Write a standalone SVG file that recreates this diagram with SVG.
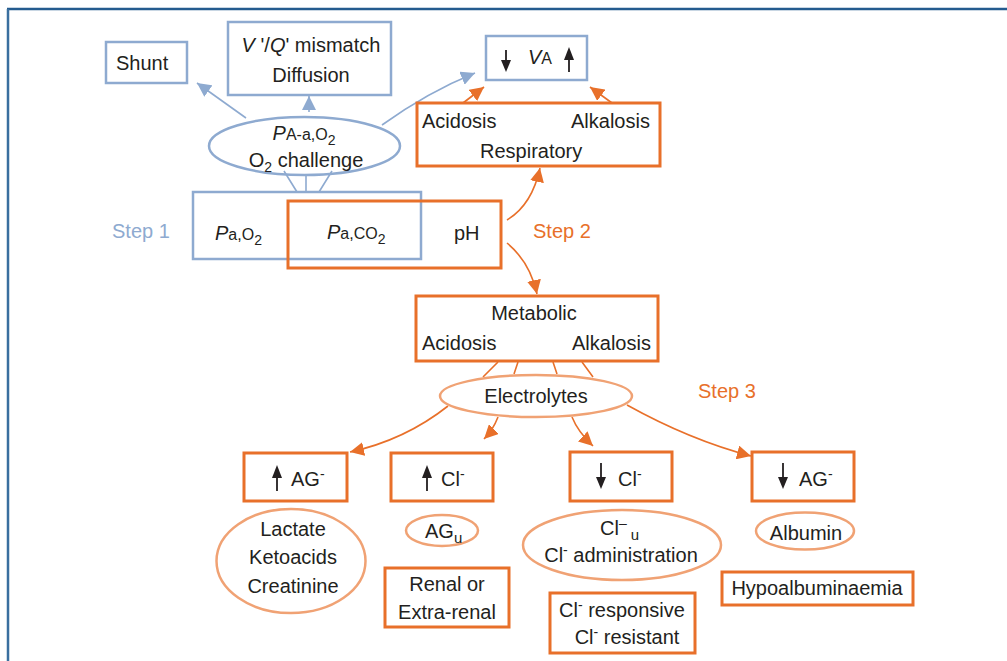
<svg xmlns="http://www.w3.org/2000/svg" width="1007" height="661" viewBox="0 0 1007 661">
<defs>
<style>
.t{font-family:"Liberation Sans",Arial,sans-serif;font-size:20px;fill:#231f20}
.m{text-anchor:middle}
.bb{fill:none;stroke:#8eaad0;stroke-width:2.5}
.ob{fill:none;stroke:#e8702a;stroke-width:3}
.oe{fill:none;stroke:#f0a274;stroke-width:2.5}
.bl{fill:none;stroke:#8eaad0;stroke-width:1.6}
.ol{fill:none;stroke:#e8702a;stroke-width:1.6}
.ba{marker-end:url(#mb)}
.oa{marker-end:url(#mo)}
.ar{stroke:#231f20;stroke-width:1.8}
.hd{fill:#231f20}
</style>
<marker id="mb" markerUnits="userSpaceOnUse" markerWidth="16" markerHeight="14" refX="14" refY="7" orient="auto"><path d="M0,0 L14,7 L0,14 z" fill="#8eaad0"/></marker>
<marker id="mo" markerUnits="userSpaceOnUse" markerWidth="16" markerHeight="14" refX="14" refY="7" orient="auto"><path d="M0,0 L14,7 L0,14 z" fill="#e8702a"/></marker>
</defs>
<rect width="1007" height="661" fill="#ffffff"/>
<g id="frame">
<line x1="7" y1="9" x2="1007" y2="9" stroke="#245b8f" stroke-width="2.5"/>
<line x1="8" y1="9" x2="8" y2="661" stroke="#3a6f9f" stroke-width="2.5"/>
</g>

<g id="connectors">
<path class="bl ba" d="M246,118 L197,83"/>
<path class="bl ba" d="M309,112 L309,96"/>
<path class="bl ba" d="M382,125 Q428,92 475,73"/>
<path class="bl" d="M284,171 L297,192 M306,175 L306,192 M332,171 L319,192"/>
<path class="ol oa" d="M463,103 L484,87"/>
<path class="ol oa" d="M612,103 L590,87"/>
<path class="ol oa" d="M507,220 Q532,205 540,168"/>
<path class="ol oa" d="M507,243 Q530,262 537,294"/>
<path class="ol" d="M498,362 L483,377 M518,362 L514,374 M553,362 L557,374 M582,362 L593,377"/>
<path class="ol oa" d="M448,406 Q405,440 350,452"/>
<path class="ol oa" d="M498,417 Q493,430 484,439"/>
<path class="ol oa" d="M572,417 Q578,432 593,446"/>
<path class="ol oa" d="M627,405 Q690,440 751,456"/>
</g>

<g id="shunt"><rect class="bb" x="106" y="42" width="81" height="41"/><text class="t" x="116" y="70">Shunt</text></g>
<g id="vq"><rect class="bb" x="228" y="22" width="163" height="73"/>
<text class="t m" x="311" y="52"><tspan font-style="italic">V</tspan> '/<tspan font-style="italic">Q</tspan>' mismatch</text>
<text class="t m" x="311" y="82">Diffusion</text></g>
<g id="paa"><ellipse cx="304.5" cy="146" rx="95.5" ry="29" fill="none" stroke="#8eaad0" stroke-width="2.5"/>
<text class="t m" x="304" y="140"><tspan font-style="italic">P</tspan><tspan font-size="16">A-a,O</tspan><tspan font-size="14" dy="5">2</tspan></text>
<text class="t m" x="306" y="167">O<tspan font-size="14" dy="5">2</tspan><tspan dy="-5"> challenge</tspan></text></g>
<g id="va"><rect class="bb" x="486" y="36" width="101" height="44"/>
<line class="ar" x1="506" y1="50" x2="506" y2="62"/><polygon class="hd" points="501,60 511,60 506,72"/>
<text class="t" x="528" y="64"><tspan font-style="italic">V</tspan><tspan font-size="16">A</tspan></text>
<line class="ar" x1="569" y1="72" x2="569" y2="58"/><polygon class="hd" points="564,60 574,60 569,47"/></g>
<g id="resp"><rect class="ob" x="417" y="103" width="243" height="63"/>
<text class="t" x="422" y="128">Acidosis</text><text class="t" x="571" y="128">Alkalosis</text>
<text class="t" x="480" y="158">Respiratory</text></g>
<g id="step1"><text class="t" x="112" y="238" style="fill:#8eaad0">Step 1</text></g>
<g id="pa"><rect class="bb" x="193" y="192" width="228" height="67"/>
<text class="t" x="215" y="240"><tspan font-style="italic">P</tspan><tspan font-size="16">a,O</tspan><tspan font-size="14" dy="5">2</tspan></text></g>
<g id="pco2"><rect class="ob" x="288" y="201" width="213" height="67"/>
<text class="t" x="327" y="239"><tspan font-style="italic">P</tspan><tspan font-size="16">a,CO</tspan><tspan font-size="14" dy="5">2</tspan></text>
<text class="t" x="454" y="240">pH</text></g>
<g id="step2"><text class="t" x="533" y="238" style="fill:#e8702a">Step 2</text></g>
<g id="metab"><rect class="ob" x="416" y="296" width="242" height="65"/>
<text class="t m" x="534" y="320">Metabolic</text>
<text class="t" x="422" y="350">Acidosis</text><text class="t" x="572" y="350">Alkalosis</text></g>
<g id="electro"><ellipse class="oe" cx="536" cy="396" rx="96" ry="21"/><text class="t m" x="536" y="403">Electrolytes</text></g>
<g id="step3"><text class="t" x="698" y="398" style="fill:#e8702a">Step 3</text></g>
<g id="upag"><rect class="ob" x="244" y="453" width="103" height="48"/>
<line class="ar" x1="277" y1="491" x2="277" y2="475"/><polygon class="hd" points="272,478 282,478 277,465"/>
<text class="t" x="291" y="486">AG<tspan font-size="14" dy="-7">-</tspan></text></g>
<g id="upcl"><rect class="ob" x="391" y="453" width="102" height="48"/>
<line class="ar" x1="427" y1="491" x2="427" y2="475"/><polygon class="hd" points="422,478 432,478 427,465"/>
<text class="t" x="441" y="486">Cl<tspan font-size="14" dy="-7">-</tspan></text></g>
<g id="downcl"><rect class="ob" x="570" y="452" width="102" height="49"/>
<line class="ar" x1="601" y1="463" x2="601" y2="478"/><polygon class="hd" points="596,477 606,477 601,489"/>
<text class="t" x="618" y="486">Cl<tspan font-size="14" dy="-7">-</tspan></text></g>
<g id="downag"><rect class="ob" x="752" y="452" width="102" height="49"/>
<line class="ar" x1="783" y1="463" x2="783" y2="478"/><polygon class="hd" points="778,477 788,477 783,489"/>
<text class="t" x="799" y="486">AG<tspan font-size="14" dy="-7">-</tspan></text></g>
<g id="lactate"><ellipse class="oe" cx="291" cy="561" rx="74.5" ry="52"/>
<text class="t m" x="293" y="536">Lactate</text><text class="t m" x="293" y="564">Ketoacids</text><text class="t m" x="293" y="593">Creatinine</text></g>
<g id="agu"><ellipse class="oe" cx="442" cy="530.5" rx="36" ry="15.5"/>
<text class="t" x="425" y="538">AG<tspan font-size="15" dy="5">u</tspan></text></g>
<g id="renal"><rect class="ob" x="385" y="568" width="124" height="59"/>
<text class="t m" x="447" y="591">Renal or</text><text class="t m" x="447" y="619">Extra-renal</text></g>
<g id="clu"><ellipse class="oe" cx="622" cy="545" rx="99" ry="35"/>
<text class="t" x="600" y="535">Cl<tspan font-size="14" dy="-7">–</tspan><tspan font-size="15" dy="12"> u</tspan></text>
<text class="t m" x="621" y="562">Cl<tspan font-size="14" dy="-7">-</tspan><tspan dy="7"> administration</tspan></text></g>
<g id="albumin"><ellipse class="oe" cx="805" cy="531" rx="49" ry="18.5"/><text class="t m" x="806" y="540">Albumin</text></g>
<g id="hypo"><rect class="ob" x="722" y="572" width="191" height="33"/><text class="t m" x="817" y="595">Hypoalbuminaemia</text></g>
<g id="clresp"><rect class="ob" x="550" y="593" width="145" height="60"/>
<text class="t m" x="622" y="617">Cl<tspan font-size="14" dy="-7">-</tspan><tspan dy="7"> responsive</tspan></text>
<text class="t m" x="627" y="644">Cl<tspan font-size="14" dy="-7">-</tspan><tspan dy="7"> resistant</tspan></text></g>
</svg>
